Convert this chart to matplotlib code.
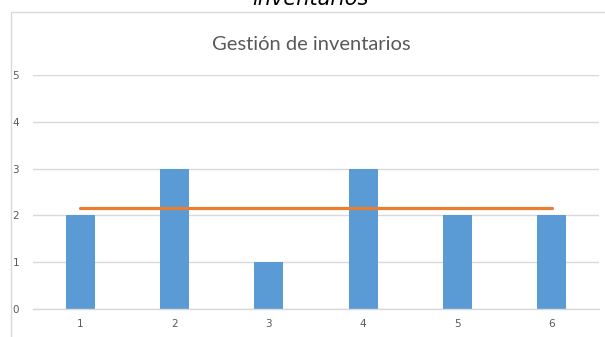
import matplotlib
matplotlib.use("Agg")
import matplotlib.pyplot as plt
from matplotlib.patches import Rectangle
import numpy as np

# Data
categories = ["1", "2", "3", "4", "5", "6"]
values = [2, 3, 1, 3, 2, 2]
average = [sum(values) / len(values)] * len(values)
y_ticks = [0, 1, 2, 3, 4, 5]

BAR_COLOR = "#5B9BD5"
LINE_COLOR = "#ED7D31"
GRID_COLOR = "#D9D9D9"
TEXT_COLOR = "#595959"

W, H = 605, 337
fig = plt.figure(figsize=(W / 100, H / 100), dpi=100)
fig.patch.set_facecolor("white")

# Chart frame
fig.patches.append(Rectangle((11 / W, -0.05), 1.1, 1 - 11.5 / H + 0.05,
                             transform=fig.transFigure, fill=False,
                             edgecolor=GRID_COLOR, linewidth=1.0))

# Caption above the frame, partially cut by the top edge
fig.text(310 / W, 1 - 5 / H, "inventarios", ha="center", va="baseline",
         fontsize=15, style="italic", color="black", family="DejaVu Sans")

ax = fig.add_axes([33 / W, 28 / H, 566 / W, 234 / H])
x = np.arange(len(categories))
ax.bar(x, values, width=0.31, color=BAR_COLOR, zorder=2)
ax.plot(x, average, color=LINE_COLOR, linewidth=2.3, solid_capstyle="round", zorder=3)

ax.set_xlim(-0.5, len(categories) - 0.5)
ax.set_ylim(0, 5)
ax.set_yticks(y_ticks)
ax.set_xticks(x)
ax.set_xticklabels(categories)
ax.yaxis.grid(True, color=GRID_COLOR, linewidth=1.0, zorder=0)
ax.set_axisbelow(True)
for s in ["top", "right", "left"]:
    ax.spines[s].set_visible(False)
ax.spines["bottom"].set_color(GRID_COLOR)
ax.spines["bottom"].set_linewidth(1.0)
ax.tick_params(axis="both", length=0, labelsize=7.5, labelcolor=TEXT_COLOR)
ax.tick_params(axis="y", pad=10)
ax.tick_params(axis="x", pad=7)
for lbl in ax.get_xticklabels() + ax.get_yticklabels():
    lbl.set_family("Liberation Sans Narrow")

fig.text(311 / W, 1 - 44 / H, "Gestión de inventarios", ha="center", va="center",
         fontsize=14.5, color=TEXT_COLOR, family="Lato")

fig.savefig("out.png", dpi=100)
